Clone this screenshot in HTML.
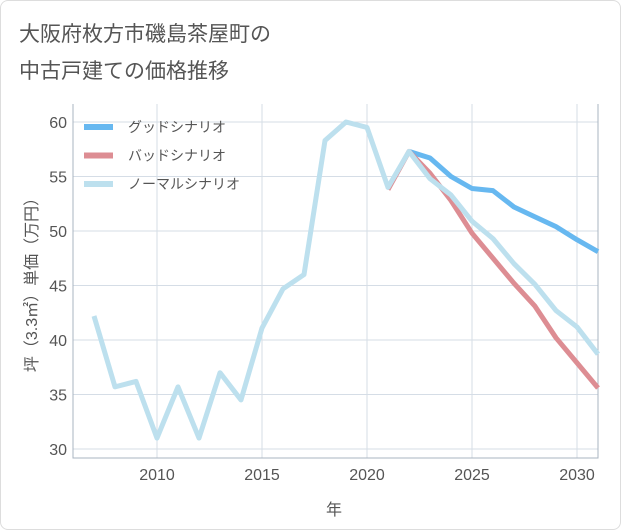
<!DOCTYPE html>
<html><head><meta charset="utf-8"><style>
body{margin:0;background:#fff;font-family:"Liberation Sans","Noto Sans CJK JP",sans-serif;}
#wrap{position:relative;width:619px;height:528px;border:1px solid #ddd;border-radius:8px;overflow:hidden;}
</style></head><body>
<div id="wrap">
<svg id="c" width="621" height="530">
<text x="18" y="40" font-size="21" fill="#555">大阪府枚方市磯島茶屋町の</text>
<text x="18" y="77" font-size="21" fill="#555">中古戸建ての価格推移</text>
<text transform="translate(36,280) rotate(-90)" text-anchor="middle" font-size="16" fill="#555">坪（3.3㎡）単価（万円）</text>
<text x="333" y="514" text-anchor="middle" font-size="16" fill="#555">年</text>
<g id="grid"></g><g id="lines"></g><g id="legend"></g>
</svg></div>
<script>
const years=[2007,2008,2009,2010,2011,2012,2013,2014,2015,2016,2017,2018,2019,2020,2021,2022,2023,2024,2025,2026,2027,2028,2029,2030,2031];
const normalVals=[42.2,35.7,36.2,31.0,35.7,31.0,37.0,34.5,41.1,44.7,46.0,58.3,60.0,59.5,54.0,57.3,54.8,53.3,50.9,49.3,47.0,45.1,42.7,41.2,38.7];
const goodYears=[2022,2023,2024,2025,2026,2027,2028,2029,2030,2031];
const goodVals=[57.3,56.7,55.0,53.9,53.7,52.2,51.3,50.4,49.2,48.1];
const badYears=[2021,2022,2023,2024,2025,2026,2027,2028,2029,2030,2031];
const badVals=[53.8,57.3,55.3,52.8,49.8,47.5,45.2,43.1,40.2,37.9,35.6];
const yTicks=[30,35,40,45,50,55,60];
const xTicks=[2010,2015,2020,2025,2030];
const L=72,R=597,T=103,B=457;
const X=y=>156+(y-2010)*21;
const Y=v=>448-(v-30)*10.9;
const ns="http://www.w3.org/2000/svg";
function mk(p,t,a){const e=document.createElementNS(ns,t);for(const k in a)e.setAttribute(k,a[k]);p.appendChild(e);return e;}
const g=document.getElementById('grid');
yTicks.forEach(v=>{
 const l=mk(g,'line',{x1:L,x2:R,y1:Y(v),y2:Y(v),stroke:'#d5dde6','stroke-width':1});
 
 
 const t=mk(g,'text',{x:66,y:Y(v)+6,'text-anchor':'end','font-size':16,fill:'#555'});t.textContent=v;
 
 
});
xTicks.forEach(v=>{
 const l=mk(g,'line',{x1:X(v),x2:X(v),y1:T,y2:B,stroke:'#d5dde6','stroke-width':1});
 
 
 const t=mk(g,'text',{x:X(v),y:479,'text-anchor':'middle','font-size':16,fill:'#555'});t.textContent=v;
 
 
});
const fr=mk(g,'path',{d:`M${L} ${T}V${B}H${R}V${T}`,fill:'none',stroke:'#aab4c0','stroke-width':1});


const lg=document.getElementById('lines');
function series(xs,vs,c,n){const p=mk(lg,'polyline',{points:xs.map((x,i)=>X(x)+','+Y(vs[i])).join(' '),fill:'none',stroke:c,'stroke-width':5,'stroke-linejoin':'round'});
 
 }
series(goodYears,goodVals,'#67b8f0','good-scenario-line');
series(badYears,badVals,'#dd8d93','bad-scenario-line');
series(years,normalVals,'#bde0ee','normal-scenario-line');
const leg=document.getElementById('legend');
[['グッドシナリオ','#67b8f0'],['バッドシナリオ','#dd8d93'],['ノーマルシナリオ','#bde0ee']].forEach((d,i)=>{
 const y=126+i*28.5;
 const r=mk(leg,'rect',{x:83,y:y-3,width:29,height:6,fill:d[1]});
 
 
 const t=mk(leg,'text',{x:127,y:y+5,'font-size':14,fill:'#555'});t.textContent=d[0];
 
 
});
</script>
</body></html>
